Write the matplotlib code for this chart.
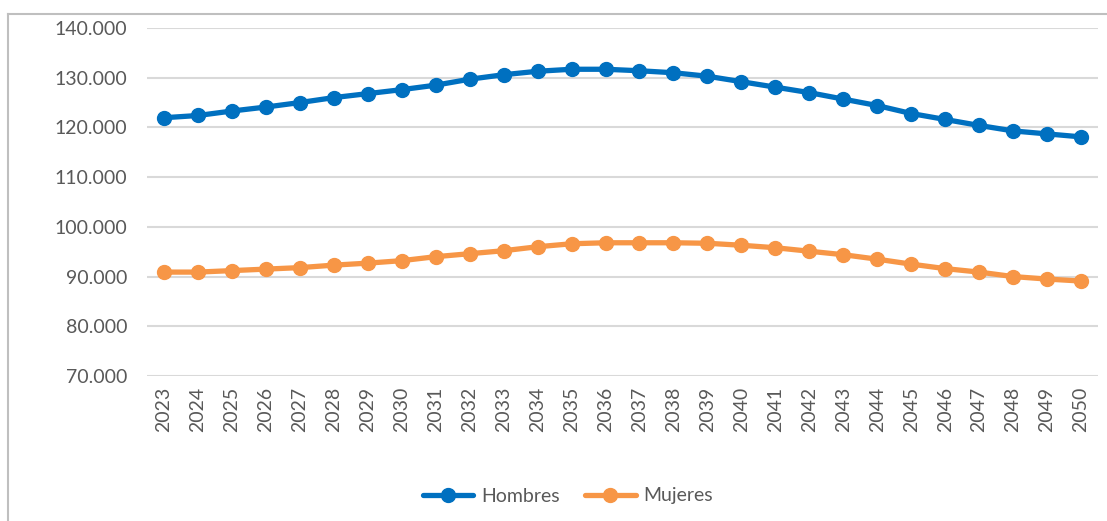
import matplotlib
matplotlib.use("Agg")

import matplotlib.pyplot as plt
from matplotlib.lines import Line2D
from matplotlib.ticker import FuncFormatter

years = list(range(2023, 2051))
hombres = [121950, 122400, 123300, 124100, 125000, 126000, 126800, 127600,
           128500, 129700, 130600, 131300, 131700, 131700, 131400, 131000,
           130300, 129200, 128100, 127000, 125700, 124400, 122800, 121600,
           120400, 119300, 118700, 118100]
mujeres = [90900, 90900, 91200, 91500, 91800, 92300, 92700, 93200,
           94000, 94600, 95200, 96000, 96600, 96800, 96800, 96800,
           96700, 96300, 95800, 95100, 94400, 93500, 92500, 91600,
           90900, 90000, 89500, 89100]
y_ticks = [70000, 80000, 90000, 100000, 110000, 120000, 130000, 140000]

plt.rcParams["font.family"] = ["Lato", "DejaVu Sans"]

W, H = 1107, 521
fig = plt.figure(figsize=(W / 100, H / 100), dpi=100)
ax = fig.add_axes([147 / W, (H - 376) / H, (1098 - 147) / W, (376 - 28) / H])

x = list(range(len(years)))
ax.plot(x, hombres, color="#0070C0", lw=3.8, marker="o", ms=10,
        label="Hombres", solid_capstyle="round")
ax.plot(x, mujeres, color="#F79646", lw=3.8, marker="o", ms=10,
        label="Mujeres", solid_capstyle="round")

ax.set_xlim(-0.5, len(years) - 0.5)
ax.set_ylim(70000, 140000)
ax.set_yticks(y_ticks)
ax.yaxis.set_major_formatter(
    FuncFormatter(lambda v, _: f"{int(v):,}".replace(",", ".")))
ax.set_xticks(x, labels=[str(y) for y in years], rotation=90)

ax.grid(True, axis="y", color="#D9D9D9", lw=1.5)
ax.set_axisbelow(True)
for s in ax.spines.values():
    s.set_visible(False)
ax.tick_params(axis="both", length=0, colors="#595959", labelsize=14)
ax.tick_params(axis="y", pad=14)
ax.tick_params(axis="x", pad=8)

fig.legend(loc="center", bbox_to_anchor=(568 / W, (H - 496) / H), ncol=2,
           frameon=False, fontsize=14, handlelength=2.6, columnspacing=1.3,
           handletextpad=0.4, labelcolor="#595959")

# outer chart frame (cut off on right/bottom)
fig.add_artist(Line2D([8 / W, 1], [(H - 14) / H, (H - 14) / H],
                      transform=fig.transFigure, color="#BFBFBF", lw=1.5))
fig.add_artist(Line2D([8 / W, 8 / W], [0, (H - 14) / H],
                      transform=fig.transFigure, color="#BFBFBF", lw=1.5))

fig.savefig("out.png", dpi=100, facecolor="white")
plt.close(fig)
